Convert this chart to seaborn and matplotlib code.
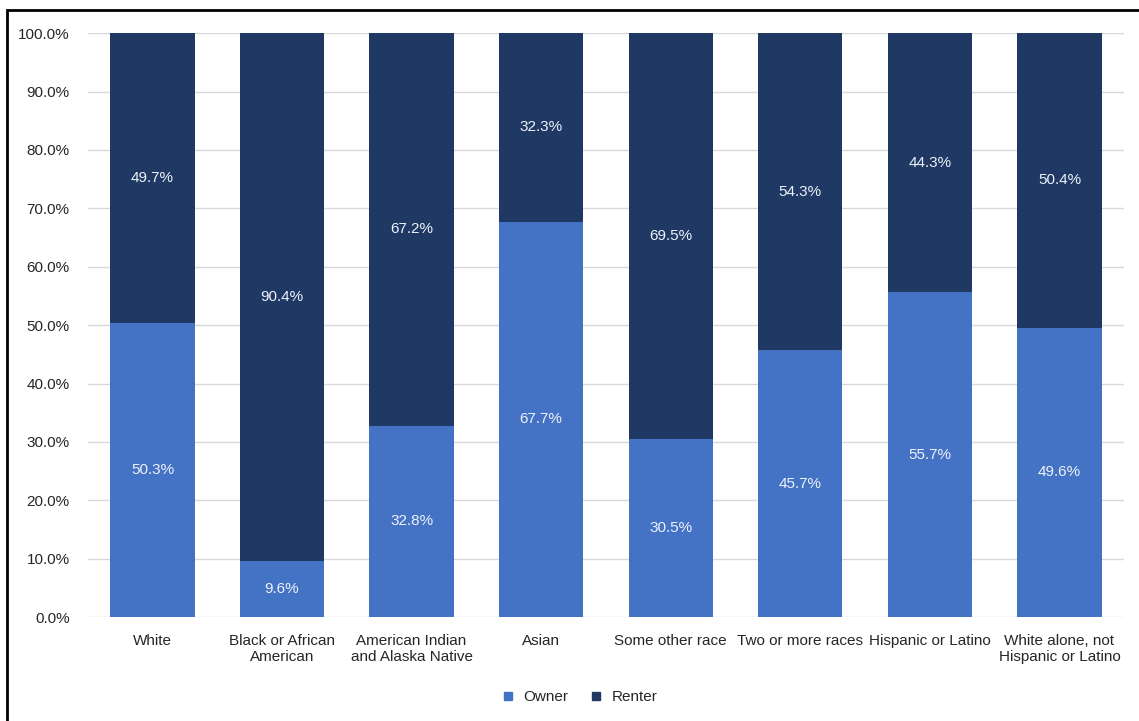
import pandas as pd
import seaborn as sns
import matplotlib.pyplot as plt
from matplotlib.lines import Line2D
from matplotlib.patches import Rectangle
from matplotlib.ticker import PercentFormatter

categories = ["White", "Black or African\nAmerican", "American Indian\nand Alaska Native",
              "Asian", "Some other race", "Two or more races", "Hispanic or Latino",
              "White alone, not\nHispanic or Latino"]
owner = [50.3, 9.6, 32.8, 67.7, 30.5, 45.7, 55.7, 49.6]
renter = [49.7, 90.4, 67.2, 32.3, 69.5, 54.3, 44.3, 50.4]

owner_color = "#4472C4"
renter_color = "#1F3864"

df = pd.DataFrame({"group": categories, "owner": owner, "renter": renter})
df["total"] = df["owner"] + df["renter"]

sns.set_style("white")
plt.rcParams["font.family"] = ["Liberation Sans Narrow", "Liberation Sans", "DejaVu Sans"]

fig = plt.figure(figsize=(11.39, 7.21), dpi=100)
ax = fig.add_axes([0.077, 0.144, 0.91, 0.81])

# renter stacked on owner: draw the full column first, owner on top
sns.barplot(data=df, x="group", y="total", color=renter_color, width=0.65,
            saturation=1, linewidth=0, ax=ax, zorder=2)
sns.barplot(data=df, x="group", y="owner", color=owner_color, width=0.65,
            saturation=1, linewidth=0, ax=ax, zorder=3)

for i, row in df.iterrows():
    ax.text(i, row["owner"] / 2, f"{row['owner']:.1f}%", ha="center", va="center",
            color="#eef2fa", fontsize=11, zorder=4)
    ax.text(i, row["owner"] + row["renter"] / 2, f"{row['renter']:.1f}%", ha="center",
            va="center", color="#eef2fa", fontsize=11, zorder=4)

ax.set_ylim(0, 100)
ax.set_xlim(-0.5, len(categories) - 0.5)
ax.set_yticks(range(0, 101, 10))
ax.yaxis.set_major_formatter(PercentFormatter(decimals=1))
ax.grid(axis="y", color="#d9d9d9", linewidth=1, zorder=0)
ax.set_axisbelow(True)
for s in ax.spines.values():
    s.set_visible(False)
ax.tick_params(axis="both", length=0, labelsize=11, colors="#262626")
ax.tick_params(axis="y", pad=13)
ax.tick_params(axis="x", pad=12)
ax.set_xlabel("")
ax.set_ylabel("")

handles = [Line2D([], [], marker="s", linestyle="", markersize=6, color=owner_color),
           Line2D([], [], marker="s", linestyle="", markersize=6, color=renter_color)]
fig.legend(handles, ["Owner", "Renter"], loc="center", bbox_to_anchor=(0.505, 0.033),
           ncol=2, frameon=False, fontsize=11, handletextpad=0.05, columnspacing=0.8)

# chart frame (left and top edges visible)
fig.patches.append(Rectangle((0.006, -0.05), 1.2, 1.036, transform=fig.transFigure,
                             fill=False, edgecolor="black", linewidth=2))

fig.savefig("out.png", dpi=100)
